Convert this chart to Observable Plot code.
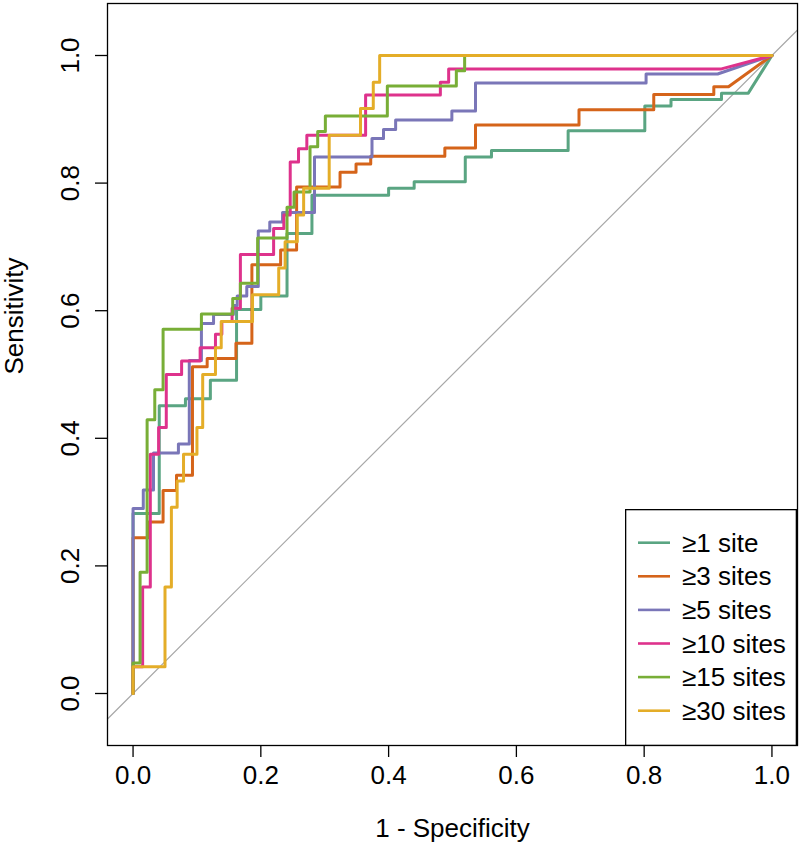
<!DOCTYPE html>
<html><head><meta charset="utf-8">
<script src="https://cdn.jsdelivr.net/npm/d3@7"></script>
<script src="https://cdn.jsdelivr.net/npm/@observablehq/plot@0.6"></script>
<style>
body{margin:0;background:#fff;}
#wrap{position:relative;width:800px;height:857px;}
#legend{position:absolute;left:625px;top:509px;}
</style></head><body><div id="wrap"></div>
<script>
// Series labels and colours
const seriesLabels = ["≥1 site","≥3 sites","≥5 sites","≥10 sites","≥15 sites","≥30 sites"];
const seriesColors = ["#5aa582","#d5641a","#7a76b8","#de328c","#78ae37","#e4ad28"];

// ROC vertices [1 - specificity, sensitivity]
const site1 = [[0,0],[0,0.282],[0.041,0.282],[0.041,0.451],[0.082,0.451],[0.082,0.462],[0.121,0.462],[0.121,0.491],[0.162,0.491],[0.162,0.602],[0.200,0.602],[0.200,0.623],[0.241,0.623],[0.241,0.721],[0.280,0.721],[0.280,0.781],[0.400,0.781],[0.400,0.792],[0.440,0.792],[0.440,0.802],[0.520,0.802],[0.520,0.841],[0.561,0.841],[0.561,0.851],[0.681,0.851],[0.681,0.882],[0.801,0.882],[0.801,0.921],[0.842,0.921],[0.842,0.931],[0.921,0.931],[0.921,0.941],[0.963,0.941],[1,1]];
const sites3 = [[0,0],[0,0.244],[0.024,0.244],[0.024,0.269],[0.047,0.269],[0.047,0.318],[0.068,0.318],[0.068,0.342],[0.093,0.342],[0.093,0.512],[0.116,0.512],[0.116,0.525],[0.161,0.525],[0.161,0.549],[0.186,0.549],[0.186,0.672],[0.231,0.672],[0.231,0.695],[0.256,0.695],[0.256,0.794],[0.324,0.794],[0.324,0.817],[0.349,0.817],[0.349,0.830],[0.372,0.830],[0.372,0.842],[0.488,0.842],[0.488,0.855],[0.536,0.855],[0.536,0.891],[0.698,0.891],[0.698,0.915],[0.815,0.915],[0.815,0.939],[0.909,0.939],[0.909,0.951],[0.932,0.951],[1,1]];
const sites5 = [[0,0],[0,0.290],[0.016,0.290],[0.016,0.319],[0.032,0.319],[0.032,0.377],[0.071,0.377],[0.071,0.391],[0.088,0.391],[0.088,0.522],[0.107,0.522],[0.107,0.580],[0.126,0.580],[0.126,0.594],[0.157,0.594],[0.157,0.608],[0.163,0.608],[0.163,0.623],[0.178,0.623],[0.178,0.638],[0.196,0.638],[0.196,0.725],[0.214,0.725],[0.214,0.739],[0.234,0.739],[0.234,0.754],[0.284,0.754],[0.284,0.841],[0.374,0.841],[0.374,0.870],[0.392,0.870],[0.392,0.884],[0.411,0.884],[0.411,0.899],[0.499,0.899],[0.499,0.913],[0.536,0.913],[0.536,0.957],[0.803,0.957],[0.803,0.971],[0.915,0.971],[1,1]];
const sites10 = [[0,0],[0,0.042],[0.015,0.042],[0.015,0.167],[0.027,0.167],[0.027,0.375],[0.040,0.375],[0.040,0.417],[0.052,0.417],[0.052,0.500],[0.076,0.500],[0.076,0.521],[0.105,0.521],[0.105,0.542],[0.129,0.542],[0.129,0.563],[0.139,0.563],[0.139,0.583],[0.155,0.583],[0.155,0.604],[0.168,0.604],[0.168,0.688],[0.220,0.688],[0.220,0.729],[0.236,0.729],[0.236,0.750],[0.246,0.750],[0.246,0.833],[0.259,0.833],[0.259,0.854],[0.272,0.854],[0.272,0.875],[0.364,0.875],[0.364,0.938],[0.481,0.938],[0.481,0.958],[0.494,0.958],[0.494,0.979],[0.921,0.979],[1,1]];
const sites15 = [[0,0],[0,0.048],[0.011,0.048],[0.011,0.190],[0.022,0.190],[0.022,0.429],[0.034,0.429],[0.034,0.476],[0.047,0.476],[0.047,0.571],[0.107,0.571],[0.107,0.595],[0.156,0.595],[0.156,0.619],[0.168,0.619],[0.168,0.643],[0.195,0.643],[0.195,0.714],[0.241,0.714],[0.241,0.762],[0.252,0.762],[0.252,0.786],[0.277,0.786],[0.277,0.857],[0.289,0.857],[0.289,0.881],[0.301,0.881],[0.301,0.905],[0.398,0.905],[0.398,0.952],[0.506,0.952],[0.506,0.976],[0.519,0.976],[0.519,1],[1,1]];
const sites30 = [[0,0],[0,0.042],[0.050,0.042],[0.050,0.167],[0.060,0.167],[0.060,0.292],[0.069,0.292],[0.069,0.333],[0.079,0.333],[0.079,0.375],[0.100,0.375],[0.100,0.417],[0.109,0.417],[0.109,0.500],[0.129,0.500],[0.129,0.542],[0.138,0.542],[0.138,0.583],[0.187,0.583],[0.187,0.625],[0.228,0.625],[0.228,0.667],[0.238,0.667],[0.238,0.708],[0.257,0.708],[0.257,0.750],[0.267,0.750],[0.267,0.792],[0.307,0.792],[0.307,0.875],[0.356,0.875],[0.356,0.917],[0.376,0.917],[0.376,0.958],[0.386,0.958],[0.386,1],[1,1]];
const seriesPoints = [site1, sites3, sites5, sites10, sites15, sites30];

// Axes
const xTicks = [0, 0.2, 0.4, 0.6, 0.8, 1.0];
const yTicks = [0, 0.2, 0.4, 0.6, 0.8, 1.0];
const xDomain = [-0.04, 1.04];
const yDomain = [-0.0815, 1.0815];
const xTitle = "1 - Specificity";
const yTitle = "Sensitivity";

const FONT = '"Liberation Sans", Arial, Helvetica, sans-serif';
const diag = xDomain.map(v => ({x: v, y: v}));

const chart = Plot.plot({
  width: 800, height: 857,
  marginLeft: 107, marginRight: 3, marginTop: 3, marginBottom: 112,
  x: {domain: xDomain},
  y: {domain: yDomain},
  style: {fontFamily: FONT, background: "#fff", color: "#000"},
  marks: [
    Plot.line(diag, {x: "x", y: "y", stroke: "#a8a8a8", strokeWidth: 1.2}),
    ...seriesPoints.map((pts, i) => Plot.line(pts, {x: d => d[0], y: d => d[1], stroke: seriesColors[i], strokeWidth: 3})),
    Plot.frame({stroke: "#000", strokeWidth: 1.3}),
    Plot.axisX({ticks: xTicks, tickSize: 12, tickPadding: 8, tickFormat: d => d.toFixed(1), fontSize: 26, label: null, strokeWidth: 1.3}),
    Plot.axisY({ticks: yTicks, tickSize: 12, tickPadding: 17, tickRotate: -90, tickFormat: d => d.toFixed(1), fontSize: 26, label: null, strokeWidth: 1.3}),
    Plot.text([xTitle], {frameAnchor: "bottom", text: d => d, dy: 91, fontSize: 26}),
    Plot.text([yTitle], {frameAnchor: "left", text: d => d, dx: -93, rotate: -90, fontSize: 26})
  ]
});

const wrap = document.getElementById("wrap");
wrap.appendChild(chart);

// Legend (bottom-right, inside the plot box)
const ns = "http://www.w3.org/2000/svg";
const lg = document.createElementNS(ns, "svg");
lg.setAttribute("id", "legend");
lg.setAttribute("width", 172); lg.setAttribute("height", 237);
const box = document.createElementNS(ns, "rect");
box.setAttribute("x", 0.65); box.setAttribute("y", 0.65);
box.setAttribute("width", 170.7); box.setAttribute("height", 235.7);
box.setAttribute("fill", "#fff"); box.setAttribute("stroke", "#000"); box.setAttribute("stroke-width", 1.3);
lg.appendChild(box);
seriesLabels.forEach((lab, i) => {
  const cy = 33.7 + i * 33.6;
  const ln = document.createElementNS(ns, "line");
  ln.setAttribute("x1", 13); ln.setAttribute("x2", 45);
  ln.setAttribute("y1", cy); ln.setAttribute("y2", cy);
  ln.setAttribute("stroke", seriesColors[i]); ln.setAttribute("stroke-width", 2.6);
  lg.appendChild(ln);
  const t = document.createElementNS(ns, "text");
  t.setAttribute("x", 57); t.setAttribute("y", cy);
  t.setAttribute("dy", "0.35em");
  t.setAttribute("font-family", FONT); t.setAttribute("font-size", 26);
  t.textContent = lab;
  lg.appendChild(t);
});
wrap.appendChild(lg);
</script></body></html>
